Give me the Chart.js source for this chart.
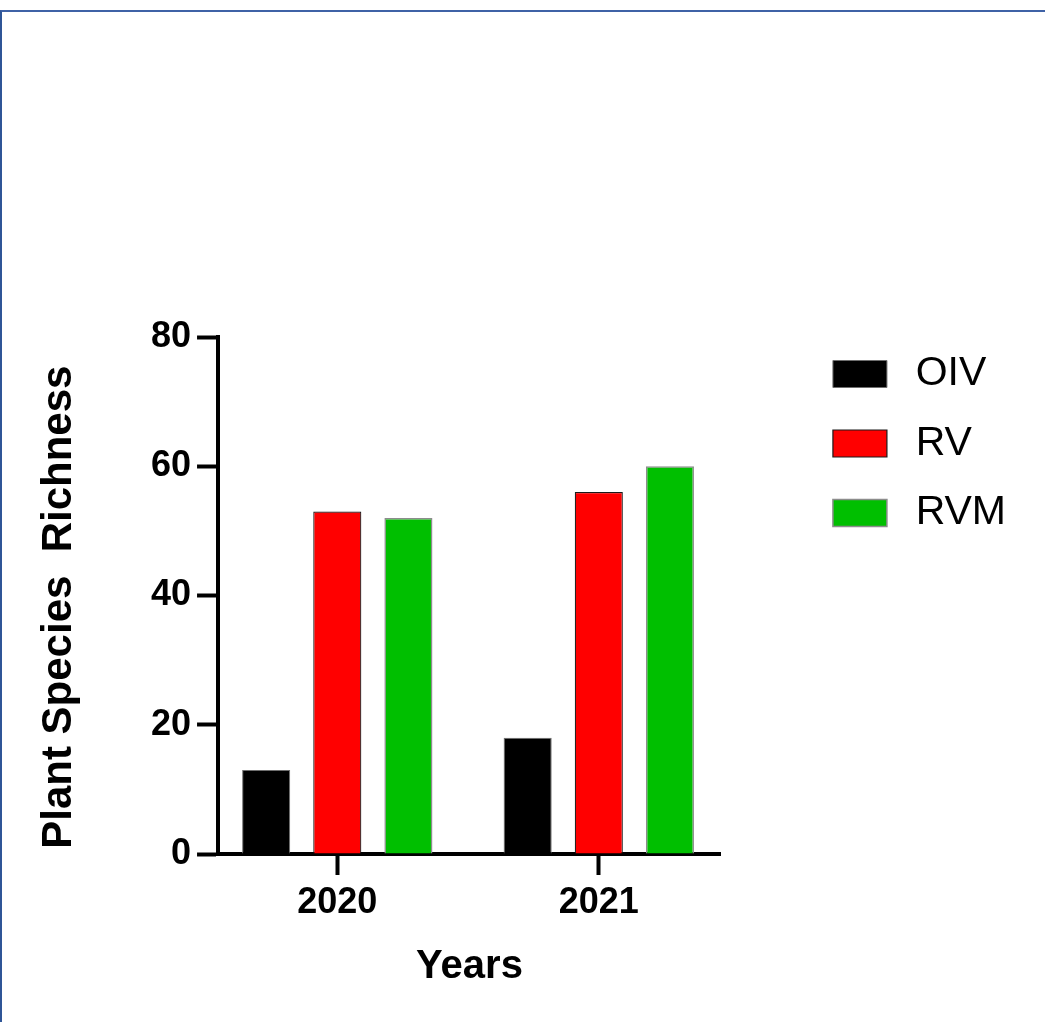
<!DOCTYPE html>
<html>
<head>
<meta charset="utf-8">
<script src="https://cdn.jsdelivr.net/npm/chart.js@4/dist/chart.umd.min.js"></script>
<style>
  html, body { margin: 0; padding: 0; background: #ffffff; }
  #frame {
    position: absolute; left: 0; top: 10px; width: 1045px; height: 1012px;
    border-top: 2px solid #3f62a6; border-left: 2px solid #2f5597; box-sizing: border-box;
  }
  #chart { position: absolute; left: 0; top: 0; }
</style>
</head>
<body>
<div id="frame"></div>
<canvas id="chart" width="1045" height="1022"></canvas>
<script>
// Plant species richness per treatment, two survey years
const years = ['2020', '2021'];
const oivValues = [13, 18];
const rvValues = [53, 56];
const rvmValues = [52, 60];
const yTicks = [0, 20, 40, 60, 80];

const toPoints = (vals) => vals.map((v, i) => ({ x: i, y: v }));

Chart.defaults.font.family = "'Liberation Sans', Arial, sans-serif";
Chart.defaults.color = '#000000';

const defaultLabels = Chart.defaults.plugins.legend.labels.generateLabels;

new Chart(document.getElementById('chart'), {
  type: 'bar',
  data: {
    datasets: [
      { label: 'OIV', data: toPoints(oivValues), backgroundColor: '#000000', borderColor: '#6e6e6e', borderWidth: 1 },
      { label: 'RV',  data: toPoints(rvValues),  backgroundColor: '#ff0000', borderColor: '#1a1a1a', borderWidth: 1.2 },
      { label: 'RVM', data: toPoints(rvmValues), backgroundColor: '#00bf00', borderColor: '#8c8c8c', borderWidth: 1.5 }
    ]
  },
  options: {
    responsive: false,
    devicePixelRatio: 1,
    animation: false,
    categoryPercentage: 0.816,
    barPercentage: 0.676,
    layout: { padding: { top: 325, left: 0, right: 29, bottom: 27 } },
    plugins: {
      tooltip: { enabled: false },
      legend: {
        position: 'right',
        align: 'start',
        maxWidth: 400,
        labels: {
          boxWidth: 54,
          boxHeight: 27,
          padding: 28.5,
          font: { size: 41 },
          color: '#000000',
          generateLabels: (chart) => defaultLabels(chart).map(l => ({ ...l, text: '\u2009' + l.text }))
        }
      }
    },
    scales: {
      x: {
        type: 'linear',
        min: -0.456,
        max: 1.467,
        offset: false,
        afterBuildTicks: (scale) => { scale.ticks = years.map((_, i) => ({ value: i })); },
        ticks: {
          callback: (v) => years[v],
          font: { size: 36, weight: 'bold' },
          padding: 6,
          maxRotation: 0,
          autoSkip: false
        },
        grid: { display: true, drawOnChartArea: false, offset: false, tickLength: 21, tickWidth: 4, tickColor: '#000000' },
        border: { display: true, width: 4, color: '#000000' },
        title: { display: true, text: 'Years', font: { size: 40, weight: 'bold' }, padding: { top: 12.8, bottom: 4 } }
      },
      y: {
        min: 0,
        max: 80,
        afterBuildTicks: (scale) => { scale.ticks = yTicks.map(v => ({ value: v })); },
        beforeFit: (scale) => { scale.maxWidth = 400; },
        afterFit: (scale) => { scale.paddingTop = 337; },
        ticks: { font: { size: 36, weight: 'bold' }, padding: 6 },
        grid: { display: true, drawOnChartArea: false, tickLength: 21, tickWidth: 4, tickColor: '#000000' },
        border: { display: true, width: 4, color: '#000000' },
        title: { display: true, text: 'Plant Species  Richness  ', font: { size: 42, weight: 'bold' }, padding: { top: 33.8, bottom: 60.8 } }
      },
      gap: {
        type: 'linear',
        position: 'right',
        display: true,
        grid: { display: false, drawTicks: false },
        border: { display: false },
        ticks: { display: false },
        afterFit: (scale) => { scale.width = 83.5; }
      }
    }
  }
});
</script>
</body>
</html>
